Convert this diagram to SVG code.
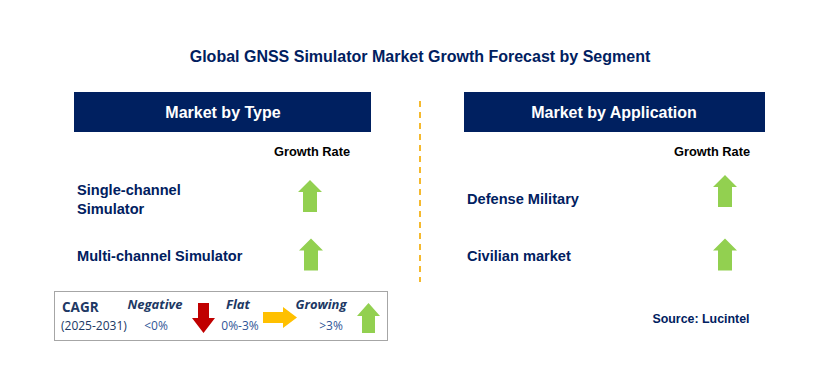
<svg xmlns="http://www.w3.org/2000/svg" width="829" height="367" viewBox="0 0 829 367">
<defs>
<style>
.t{font-family:"Liberation Sans",Arial,sans-serif;font-weight:bold;}
.title{font-size:16px;fill:#002060;}
.hdr{font-size:16px;fill:#ffffff;}
.gr{font-size:12.8px;fill:#000000;}
.lbl{font-size:14.6px;fill:#002060;}
.lg{font-family:"Open Sans","Liberation Sans",sans-serif;fill:#203864;}
.lv{fill:#2F5597;}
.up{fill:#92D050;}
</style>
<path id="upA" d="M0,-16 L12,-4 L7,-4 L7,16 L-7,16 L-7,-4 L-12,-4 Z"/>
</defs>
<rect width="829" height="367" fill="#ffffff"/>
<text class="t title" x="420" y="62" text-anchor="middle">Global GNSS Simulator Market Growth Forecast by Segment</text>
<g id="connectors">
<line x1="420" y1="101" x2="420" y2="282" stroke="#F5B92E" stroke-width="2" stroke-dasharray="6,5"/>
</g>
<g id="hdr-type">
<rect x="74" y="92" width="297" height="40" fill="#002060"/>
<text class="t hdr" x="223" y="118" text-anchor="middle">Market by Type</text>
</g>
<g id="hdr-app">
<rect x="464" y="92" width="301" height="40" fill="#002060"/>
<text class="t hdr" x="614" y="118" text-anchor="middle">Market by Application</text>
</g>
<g id="gr-left"><text class="t gr" x="312" y="156" text-anchor="middle">Growth Rate</text></g>
<g id="gr-right"><text class="t gr" x="712" y="156" text-anchor="middle">Growth Rate</text></g>
<g id="single">
<text class="t lbl" x="77" y="195">Single-channel</text>
<text class="t lbl" x="77" y="214">Simulator</text>
<use href="#upA" class="up" transform="translate(310,196)"/>
</g>
<g id="multi">
<text class="t lbl" x="77" y="261">Multi-channel Simulator</text>
<use href="#upA" class="up" transform="translate(311,254.5)"/>
</g>
<g id="defense">
<text class="t lbl" x="467" y="204">Defense Military</text>
<use href="#upA" class="up" transform="translate(725,191)"/>
</g>
<g id="civilian">
<text class="t lbl" x="467" y="261">Civilian market</text>
<use href="#upA" class="up" transform="translate(725,254.5)"/>
</g>
<g id="legend">
<rect x="54.5" y="291.5" width="333" height="49" fill="#ffffff" stroke="#A6A6A6" stroke-width="1"/>
<text class="lg" x="62" y="312" font-size="13.5" font-weight="bold">CAGR</text>
<text class="lg" x="61" y="330" font-size="12">(2025-2031)</text>
<text class="lg" x="155" y="309" font-size="13" font-weight="bold" font-style="italic" text-anchor="middle">Negative</text>
<text class="lg lv" x="156" y="330" font-size="12" text-anchor="middle">&lt;0%</text>
<path d="M198,303 L209,303 L209,318 L215,318 L203.5,333 L192,318 L198,318 Z" fill="#C00000"/>
<text class="lg" x="238" y="309" font-size="13" font-weight="bold" font-style="italic" text-anchor="middle">Flat</text>
<text class="lg lv" x="240" y="330" font-size="12" text-anchor="middle">0%-3%</text>
<path d="M263,312 L283,312 L283,307 L297,317.5 L283,328 L283,323 L263,323 Z" fill="#FFC000"/>
<text class="lg" x="321" y="309" font-size="13" font-weight="bold" font-style="italic" text-anchor="middle">Growing</text>
<text class="lg lv" x="331" y="330" font-size="12" text-anchor="middle">&gt;3%</text>
<path d="M368.5,303 L380,316 L375,316 L375,333 L362,333 L362,316 L357,316 Z" fill="#92D050"/>
</g>
<text class="t" x="701" y="323" font-size="12.4" fill="#002060" text-anchor="middle">Source: Lucintel</text>
</svg>
